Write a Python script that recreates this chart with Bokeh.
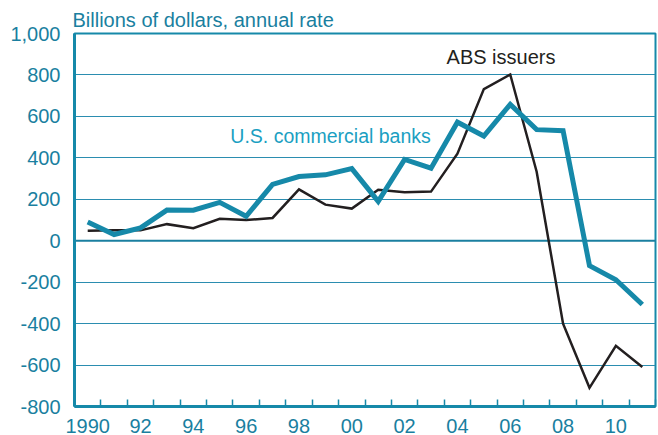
from bokeh.plotting import figure
from bokeh.models import Range1d, FixedTicker, CustomJSTickFormatter, NumeralTickFormatter, Label
from bokeh.embed import file_html
from bokeh.resources import INLINE

# Data (annual, plotted at mid-year)
years = list(range(1990, 2012))
banks = [90, 30, 62, 148, 147, 185, 118, 272, 310, 318, 348, 190, 392, 350,
         572, 505, 658, 536, 531, -120, -188, -308]
abs_issuers = [48, 50, 50, 80, 60, 106, 100, 110, 248, 174, 155, 246, 234, 237,
               420, 732, 802, 333, -400, -710, -507, -609]
y_ticks = [-800, -600, -400, -200, 0, 200, 400, 600, 800, 1000]
label_years = [1990, 1992, 1994, 1996, 1998, 2000, 2002, 2004, 2006, 2008, 2010]

TEAL = "#1689a9"
AXIS = "#1a7fa0"
GRID = "#2b8db0"
FONT = "Liberation Sans"

xs = [y + 0.5 for y in years]

p = figure(width=658, height=435, output_backend="svg", toolbar_location=None,
           x_range=Range1d(years[0], years[-1] + 1), y_range=Range1d(y_ticks[0], y_ticks[-1]),
           min_border_left=74, min_border_right=3, min_border_top=33, min_border_bottom=29,
           title="Billions of dollars, annual rate")

p.title.text_color = AXIS
p.title.text_font = FONT
p.title.text_font_size = "20px"
p.title.text_font_style = "normal"
p.title.align = "left"
p.title.offset = -2
p.title.standoff = 6

p.background_fill_color = "white"
p.border_fill_color = "white"
p.outline_line_color = TEAL
p.outline_line_width = 2

# Grid
p.xgrid.visible = False
p.ygrid.ticker = FixedTicker(ticks=y_ticks)
p.ygrid.grid_line_color = GRID
p.ygrid.grid_line_width = 1

# Zero line
p.line(x=[years[0], years[-1] + 1], y=[0, 0], line_color=AXIS, line_width=2)

# Y axis
p.yaxis.ticker = FixedTicker(ticks=y_ticks)
p.yaxis.formatter = NumeralTickFormatter(format="0,0")
p.yaxis.major_tick_line_color = None
p.yaxis.minor_tick_line_color = None
p.yaxis.axis_line_color = TEAL
p.yaxis.axis_line_width = 3
p.yaxis.major_label_text_color = AXIS
p.yaxis.major_label_text_font = FONT
p.yaxis.major_label_text_font_size = "20px"
p.yaxis.major_label_standoff = 8

# X axis
p.xaxis.ticker = FixedTicker(ticks=[y + 0.5 for y in label_years],
                             minor_ticks=[y for y in years[1:]] + [years[-1] + 1])
p.xaxis.formatter = CustomJSTickFormatter(code="""
    const y = Math.floor(tick);
    if (y == 1990) { return "1990"; }
    return String(y % 100).padStart(2, "0");
""")
p.xaxis.major_tick_line_color = None
p.xaxis.minor_tick_in = 7
p.xaxis.minor_tick_out = 0
p.xaxis.minor_tick_line_color = TEAL
p.xaxis.minor_tick_line_width = 1.5
p.xaxis.axis_line_color = TEAL
p.xaxis.axis_line_width = 3
p.xaxis.major_label_text_color = AXIS
p.xaxis.major_label_text_font = FONT
p.xaxis.major_label_text_font_size = "20px"
p.xaxis.major_label_standoff = 6

# Lines
p.line(xs, abs_issuers, line_color="#231f20", line_width=2.5, line_join="miter")
p.line(xs, banks, line_color=TEAL, line_width=5, line_join="miter")

# Annotations
p.add_layout(Label(x=2006.15, y=889, text="ABS issuers", text_color="#231f20",
                   text_font=FONT, text_font_size="20px",
                   text_align="center", text_baseline="middle"))
p.add_layout(Label(x=1995.9, y=507, text="U.S. commercial banks", text_color="#1b9fc2",
                   text_font=FONT, text_font_size="19.5px",
                   text_align="left", text_baseline="middle"))

open("out.html", "w").write(file_html(p, INLINE))
